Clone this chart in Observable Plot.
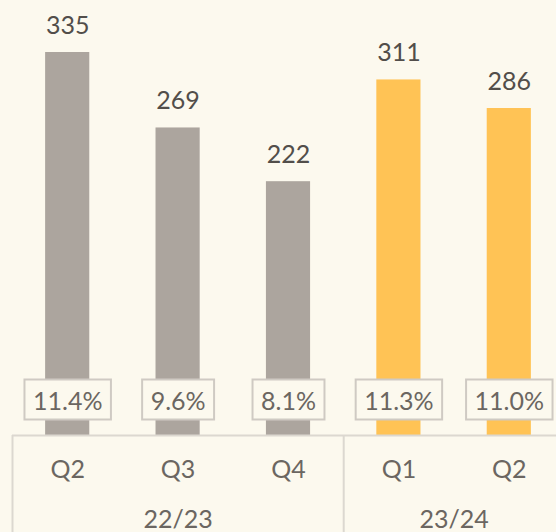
<!DOCTYPE html>
<html>
<head>
<meta charset="utf-8">
<script src="https://cdn.jsdelivr.net/npm/d3@7"></script>
<script src="https://cdn.jsdelivr.net/npm/@observablehq/plot@0.6"></script>
<style>
  html, body { margin: 0; padding: 0; background: #fcf9ee; overflow: hidden; }
</style>
</head>
<body>
<script>
const quarters = ["Q2", "Q3", "Q4", "Q1", "Q2"];
const fiscalYears = ["22/23", "22/23", "22/23", "23/24", "23/24"];
const values = [335, 269, 222, 311, 286];
const margins = ["11.4%", "9.6%", "8.1%", "11.3%", "11.0%"];
const groups = ["22/23", "23/24"];
const groupColors = ["#aca59e", "#ffc355"];

const bg = "#fcf9ee";
const lineColor = "#dcd8d0";

const data = values.map((v, i) => ({i, quarter: quarters[i], fy: fiscalYears[i], value: v, margin: margins[i]}));
const groupData = groups.map(g => {
  const idx = data.filter(d => d.fy === g).map(d => d.i);
  return {g, mid: (d3.min(idx) + d3.max(idx)) / 2, start: d3.min(idx) - 0.5, end: d3.max(idx) + 0.5};
});
const boundaries = Array.from(new Set(groupData.flatMap(d => [d.start, d.end])));

const chart = Plot.plot({
  width: 556,
  height: 532,
  margin: 0,
  x: {domain: [-0.5, 4.5], range: [12, 564], axis: null},
  y: {domain: [0, 335], range: [435, 52], axis: null},
  color: {domain: groups, range: groupColors},
  style: {background: bg, fontFamily: "Lato, sans-serif"},
  marks: [
    Plot.rectY(data, {x1: d => d.i - 0.2, x2: d => d.i + 0.2, y: "value", fill: "fy"}),
    Plot.ruleY([0], {x1: -0.5, x2: 4.5, stroke: lineColor, strokeWidth: 2}),
    Plot.ruleX(boundaries, {y1: 0, y2: -200, stroke: lineColor, strokeWidth: 2, clip: true}),
    Plot.text(data, {x: "i", y: "value", text: d => String(d.value), dy: -27, fontSize: 25, fill: "#524e4a"}),
    Plot.text(data, {x: "i", y: 0, text: "margin", dy: -34, fontSize: 25, fill: "#6b6661"}),
    Plot.text(data, {x: "i", y: 0, text: "quarter", dy: 34, fontSize: 25, fill: "#6b6661"}),
    Plot.text(groupData, {x: "mid", y: 0, text: "g", dy: 84, fontSize: 25, fill: "#6b6661"})
  ]
});
document.body.append(chart);

// draw boxes around the margin labels, sized from the rendered text
chart.querySelectorAll("text").forEach(t => {
  if (!t.textContent.endsWith("%")) return;
  const bb = t.getBBox();
  const r = document.createElementNS("http://www.w3.org/2000/svg", "rect");
  const cy = bb.y + bb.height / 2;
  r.setAttribute("x", bb.x - 8.5);
  r.setAttribute("y", cy - 20);
  r.setAttribute("width", bb.width + 17);
  r.setAttribute("height", 40);
  r.setAttribute("fill", bg);
  r.setAttribute("stroke", "#cfcac3");
  r.setAttribute("stroke-width", 2);
  const tr = t.getAttribute("transform");
  if (tr) r.setAttribute("transform", tr);
  t.parentNode.insertBefore(r, t);
});
</script>
</body>
</html>
